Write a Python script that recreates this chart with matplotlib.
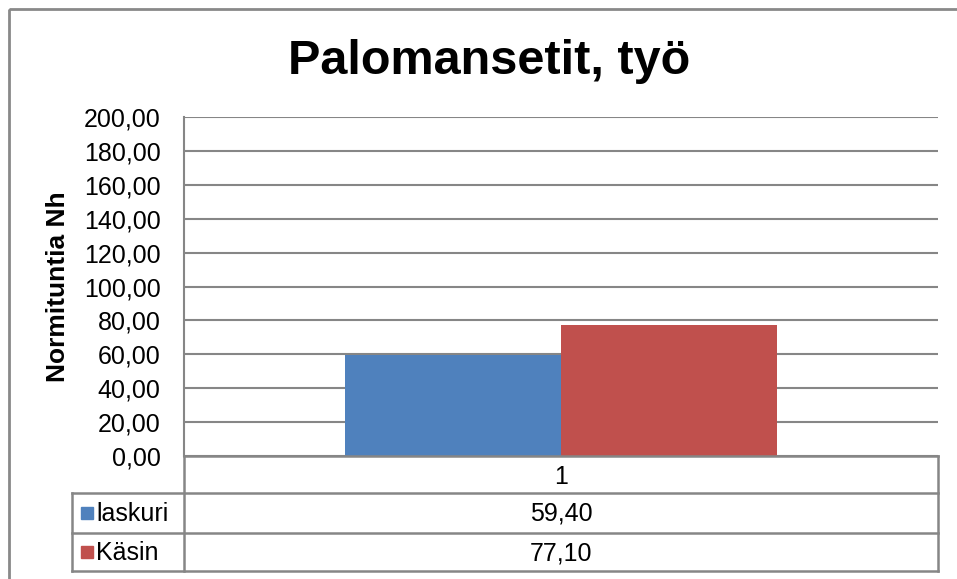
import matplotlib
matplotlib.use("Agg")
import matplotlib.pyplot as plt
from matplotlib.patches import Rectangle
from matplotlib.lines import Line2D

plt.rcParams['font.family'] = ['Liberation Sans', 'DejaVu Sans']

title = "Palomansetit, työ"
ylabel = "Normituntia Nh"
categories = ["1"]
series_names = ["laskuri", "Käsin"]
laskuri = [59.40]
kasin = [77.10]
colors = ["#4F81BD", "#C0504D"]
yticks = [0, 20, 40, 60, 80, 100, 120, 140, 160, 180, 200]

W, H = 957, 579
grid_col = "#868686"

def fmt(v):
    return f"{v:.2f}".replace(".", ",")

fig = plt.figure(figsize=(W / 100, H / 100), dpi=100)

# plot area in pixels
px_l, px_r, px_t, px_b = 184, 938, 117, 456
ax = fig.add_axes([px_l / W, 1 - px_b / H, (px_r - px_l) / W, (px_b - px_t) / H])

w = 0.2865
xs = list(range(len(categories)))
ax.bar([x - w / 2 for x in xs], laskuri, width=w, color=colors[0], zorder=3)
ax.bar([x + w / 2 for x in xs], kasin, width=w, color=colors[1], zorder=3)

ax.set_xlim(-0.5, len(categories) - 0.5)
ax.set_ylim(0, 200)
ax.set_yticks(yticks)
ax.set_yticklabels([fmt(v) for v in yticks], fontsize=18)
ax.set_xticks([])
ax.tick_params(axis='y', length=0, pad=17)
ax.yaxis.grid(True, color=grid_col, linewidth=1.5, zorder=0)
for s in ["top", "right", "bottom"]:
    ax.spines[s].set_visible(False)
ax.spines["left"].set_color(grid_col)
ax.spines["left"].set_linewidth(1.5)
ax.set_ylabel(ylabel, fontsize=19, fontweight="bold", labelpad=10)

# overlay in pixel coordinates for title, data table and frame
ov = fig.add_axes([0, 0, 1, 1], facecolor="none")
ov.set_xlim(0, W)
ov.set_ylim(H, 0)
ov.axis("off")

ov.add_patch(Rectangle((9, 9), 1200, 1200, fill=False, edgecolor="#898989", linewidth=2))
ov.text(489, 62, title, ha="center", va="center", fontsize=35, fontweight="bold")

rows = [456, 493, 533, 571]
col_l, col_m = 72, px_l
lc = dict(color=grid_col, linewidth=1.8)
ov.add_line(Line2D([px_l, px_r], [rows[0], rows[0]], **lc))
for y in rows[1:]:
    ov.add_line(Line2D([col_l, px_r], [y, y], **lc))
ov.add_line(Line2D([col_m, col_m], [rows[0], rows[3]], **lc))
ov.add_line(Line2D([px_r, px_r], [rows[0], rows[3]], **lc))
ov.add_line(Line2D([col_l, col_l], [rows[1], rows[3]], **lc))

cx = (px_l + px_r) / 2
ov.text(cx, (rows[0] + rows[1]) / 2 + 2, categories[0], ha="center", va="center", fontsize=18)
for i, (name, vals) in enumerate(zip(series_names, [laskuri, kasin])):
    yc = (rows[i + 1] + rows[i + 2]) / 2
    ov.add_patch(Rectangle((81, yc - 6), 12, 12, color=colors[i]))
    ov.text(96, yc + 1, name, ha="left", va="center", fontsize=18)
    ov.text(cx, yc + 1, fmt(vals[0]), ha="center", va="center", fontsize=18)

fig.savefig("out.png", dpi=100)
